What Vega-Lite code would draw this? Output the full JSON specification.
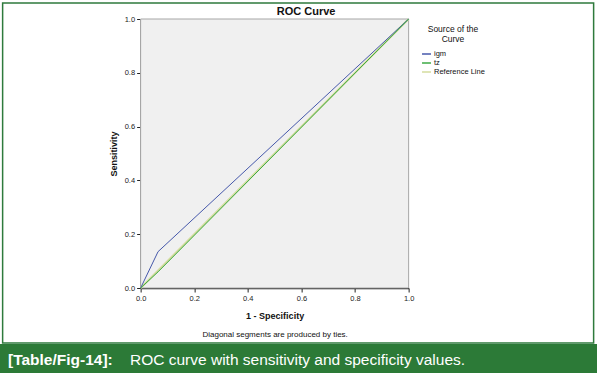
{
  "$schema": "https://vega.github.io/schema/vega-lite/v6.json",
  "background": "white",
  "padding": {"top": 2, "left": 0, "right": 0, "bottom": 0},
  "spacing": 0,
  "center": true,
  "config": {
    "font": "Liberation Sans",
    "view": {"stroke": null},
    "axis": {"labelFont": "Liberation Sans", "titleFont": "Liberation Sans", "grid": false}
  },
  "datasets": {
    "reference": [
      {"curve": "Reference Line", "step": 1, "fpr": 0, "tpr": 0},
      {"curve": "Reference Line", "step": 2, "fpr": 1, "tpr": 1}
    ],
    "curves": [
      {"curve": "igm", "step": 1, "fpr": 0, "tpr": 0},
      {"curve": "igm", "step": 2, "fpr": 0.065, "tpr": 0.135},
      {"curve": "igm", "step": 3, "fpr": 1, "tpr": 1},
      {"curve": "tz", "step": 1, "fpr": 0, "tpr": 0},
      {"curve": "tz", "step": 2, "fpr": 0.065, "tpr": 0.06},
      {"curve": "tz", "step": 3, "fpr": 1, "tpr": 1}
    ]
  },
  "vconcat": [
    {
      "width": 591,
      "height": 340,
      "view": {"stroke": "#2e7a3c", "strokeWidth": 1.5, "fill": "#ffffff"},
      "title": {"text": "ROC Curve", "fontSize": 11, "fontWeight": "bold", "color": "#111111", "anchor": "middle", "frame": "group", "offset": -14, "dx": 8},
      "resolve": {"axis": {"x": "independent"}},
      "layer": [
        {
          "data": {"values": [{}]},
          "mark": {"type": "rect", "fill": "#f0f0f0", "stroke": "#a6a6a6", "strokeWidth": 1},
          "encoding": {
            "x": {"datum": 0, "type": "quantitative", "scale": {"domain": [0, 1], "range": [138, 406]}, "axis": null},
            "x2": {"datum": 1},
            "y": {"datum": 0, "type": "quantitative", "scale": {"domain": [0, 1], "range": [285, 16]}},
            "y2": {"datum": 1}
          }
        },
        {
          "data": {"name": "reference"},
          "mark": {"type": "line", "strokeWidth": 2},
          "encoding": {
            "x": {"field": "fpr", "type": "quantitative", "scale": {"domain": [0, 1], "range": [138, 406]},
              "axis": {"orient": "bottom", "offset": -55, "title": "Diagonal segments are produced by ties.", "titleFontSize": 8, "titleFontWeight": "normal", "titleColor": "#111111", "titlePadding": 42, "labels": false, "ticks": false, "domain": false}},
            "y": {"field": "tpr", "type": "quantitative", "scale": {"domain": [0, 1], "range": [285, 16]}},
            "color": {"field": "curve", "type": "nominal",
              "scale": {"domain": ["igm", "tz", "Reference Line"], "range": ["#4658ab", "#3daa45", "#d4dc9e"]},
              "legend": {"orient": "none", "legendX": 421, "legendY": 22, "title": ["Source of the", "Curve"], "titleFontSize": 8.5, "titleFontWeight": "normal", "titleColor": "#111111", "titleAlign": "center", "titleAnchor": "middle", "titleLineHeight": 10, "titlePadding": 5, "labelFontSize": 7.5, "labelColor": "#111111", "labelOffset": 2, "symbolType": "stroke", "symbolSize": 80, "symbolStrokeWidth": 1.5, "rowPadding": 0}},
            "order": {"field": "step"}
          }
        },
        {
          "data": {"name": "curves"},
          "mark": {"type": "line", "strokeWidth": 1},
          "encoding": {
            "x": {"field": "fpr", "type": "quantitative", "scale": {"domain": [0, 1], "range": [138, 406]},
              "axis": {"orient": "bottom", "offset": -55, "title": "1 - Specificity", "values": [0, 0.2, 0.4, 0.6, 0.8, 1], "format": ".1f", "labelFlush": false, "tickSize": 4, "tickColor": "#222222", "domainColor": "#222222", "domainWidth": 1.5, "labelFontSize": 7.5, "labelColor": "#222222", "labelPadding": 2, "titleFontSize": 9, "titleFontWeight": "bold", "titleColor": "#111111", "titlePadding": 10}},
            "y": {"field": "tpr", "type": "quantitative", "scale": {"domain": [0, 1], "range": [285, 16]},
              "axis": {"orient": "left", "offset": -138, "title": "Sensitivity", "values": [0, 0.2, 0.4, 0.6, 0.8, 1], "format": ".1f", "labelFlush": false, "tickSize": 4, "tickColor": "#222222", "domainColor": "#222222", "domainWidth": 1.5, "labelFontSize": 7.5, "labelColor": "#222222", "labelPadding": 2, "titleFontSize": 9, "titleFontWeight": "bold", "titleColor": "#111111", "titlePadding": 6}},
            "color": {"field": "curve", "type": "nominal"},
            "order": {"field": "step"}
          }
        }
      ]
    },
    {
      "width": 597,
      "height": 31,
      "view": {"fill": "#2c7a37", "stroke": null},
      "data": {"values": [{"label": "[Table/Fig-14]:", "caption": "ROC curve with sensitivity and specificity values."}]},
      "layer": [
        {"mark": {"type": "text", "align": "left", "baseline": "middle", "dx": -290.5, "fontSize": 15.5, "fontWeight": "bold", "color": "#ffffff", "font": "Liberation Sans"},
          "encoding": {"text": {"field": "label"}}},
        {"mark": {"type": "text", "align": "left", "baseline": "middle", "dx": -168.5, "fontSize": 15.5, "color": "#ffffff", "font": "Liberation Sans"},
          "encoding": {"text": {"field": "caption"}}}
      ]
    }
  ]
}
